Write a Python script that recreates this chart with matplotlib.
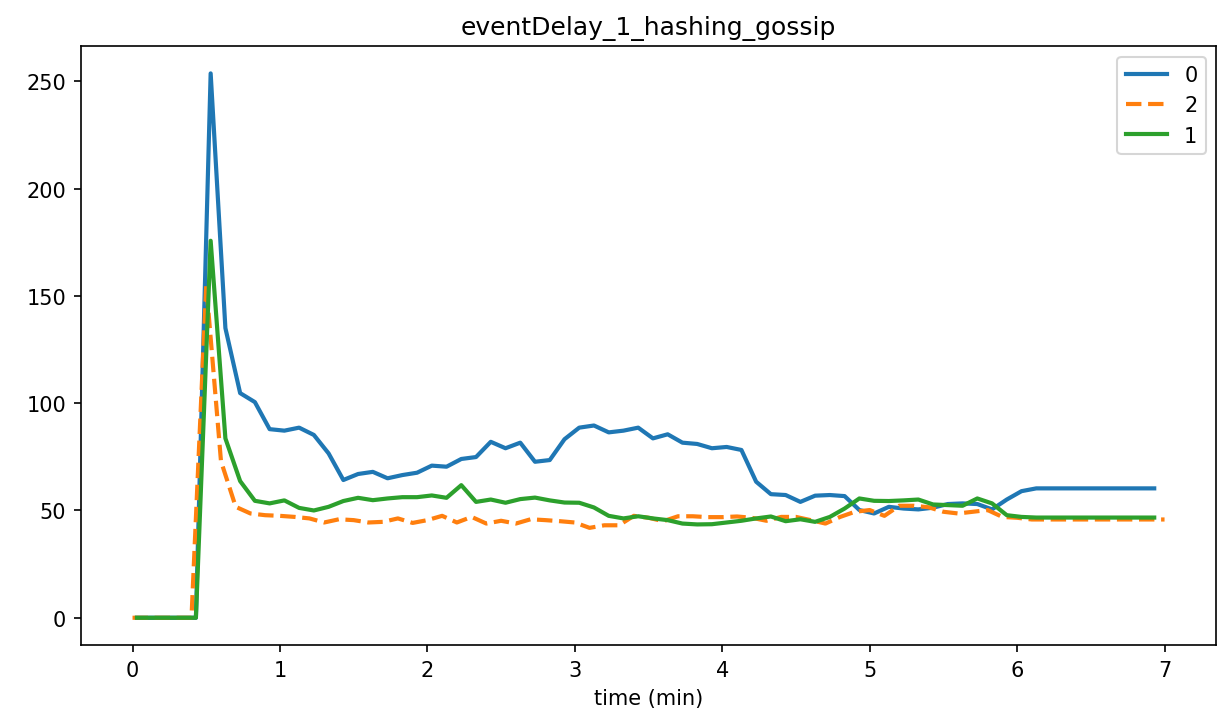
import numpy as np
import matplotlib
matplotlib.use("Agg")
import matplotlib.pyplot as plt

# sample times (min)
t_0 = np.round(0.03 + 0.1 * np.arange(70), 2)
t_2 = np.round(0.1 * np.arange(71), 2)
t_1 = t_0

delay_0 = [0, 0, 0, 0, 0, 253.7, 135, 104.7, 100.5, 87.9,
           87.2, 88.6, 85.2, 76.6, 64.2, 67, 68, 65, 66.5, 67.6,
           70.9, 70.4, 74, 74.9, 82, 79, 81.6, 72.7, 73.5, 83.2,
           88.6, 89.6, 86.4, 87.2, 88.6, 83.6, 85.5, 81.6, 81, 79,
           79.6, 78.2, 63.4, 57.6, 57.2, 54, 56.9, 57.2, 56.7, 50.2,
           48.6, 51.7, 50.9, 50.5, 51.3, 53, 53.3, 53, 50.5, 55.1,
           59, 60.3, 60.3, 60.3, 60.3, 60.3, 60.3, 60.3, 60.3, 60.3]

delay_2 = [0, 0, 0, 0, 0, 155, 73, 51.7, 48.6, 47.8,
           47.5, 47, 46.3, 44.4, 45.9, 45.5, 44.4, 44.7, 46.3, 44.2,
           45.5, 47.5, 44.4, 47, 43.9, 45.2, 43.9, 45.9, 45.5, 45,
           44.4, 41.9, 43.1, 43.1, 47.5, 46.6, 45, 47.3, 47.3, 46.9,
           46.9, 47.2, 46.6, 45.2, 47, 47, 45.5, 43.9, 47, 49.4,
           50.2, 47.5, 52.2, 52.2, 51.5, 49.4, 48.6, 49.4, 50.2, 47,
           46.6, 45.8, 45.8, 45.8, 45.8, 45.8, 45.8, 45.8, 45.8, 45.8,
           45.8]

delay_1 = [0, 0, 0, 0, 0, 175.7, 83.6, 63.7, 54.5, 53.3,
           54.7, 51.2, 50, 51.7, 54.4, 55.9, 54.8, 55.6, 56.2, 56.2,
           57, 55.9, 61.8, 54, 55.1, 53.6, 55.3, 56, 54.7, 53.7,
           53.6, 51.4, 47.5, 46.3, 47.3, 46.3, 45.5, 43.9, 43.5, 43.6,
           44.4, 45.2, 46.3, 47.2, 45, 45.9, 44.7, 47, 50.9, 55.6,
           54.5, 54.4, 54.7, 55.1, 52.8, 52.5, 52.2, 55.6, 53.3, 47.8,
           47, 46.7, 46.7, 46.7, 46.7, 46.7, 46.7, 46.7, 46.7, 46.7]

fig = plt.figure(figsize=(8.173, 4.833), dpi=150)
ax = fig.add_axes([0.066, 0.109, 0.926, 0.826])

ax.plot(t_0, delay_0, label="0", lw=2)
ax.plot(t_2, delay_2, label="2", lw=2, ls="--")
ax.plot(t_1, delay_1, label="1", lw=2)

ax.set_title("eventDelay_1_hashing_gossip")
ax.set_xlabel("time (min)")
ax.legend(loc="upper right")

fig.savefig("out.png", dpi=150)
